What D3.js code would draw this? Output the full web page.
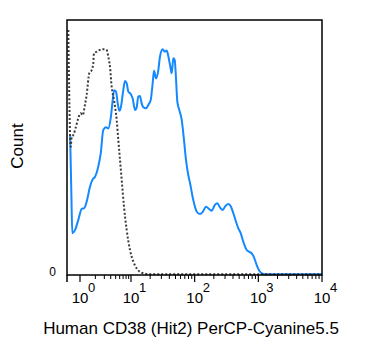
<!DOCTYPE html>
<html><head><meta charset="utf-8">
<script src="https://cdn.jsdelivr.net/npm/d3@7/dist/d3.min.js"></script>
<style>html,body{margin:0;padding:0;background:#fff;}svg{display:block;font-family:"Liberation Sans",Arial,sans-serif;}</style>
</head><body>
<svg id="c" width="375" height="357"></svg>
<script>
// Stained sample (blue): fluorescence intensity and count (% of max)
const stainedX = [0.64,0.68,0.706,0.798,0.926,1.08,1.21,1.35,1.57,1.77,1.97,2.28,2.55,2.86,3.24,3.59,4.0,4.38,4.64,5.08,5.49,5.90,6.37,7.06,7.62,8.24,8.85,9.86,10.6,11.6,12.3,13.0,13.8,14.7,15.6,17.2,18.7,20.4,21.9,23.0,24.7,26.9,28.5,31.5,33.8,36.4,38.5,41.0,43.6,46.2,48.6,50.9,53.4,57.4,62.6,68.0,73.1,79.4,84.5,95.1,108,121,134,151,170,185,208,227,250,276,299,337,372,405,446,485,528,580,656,721,787,855,943,1035,1197,1353,2190,4510,10000];
const stainedY = [55.0,30.0,16.4,17.6,21.6,25.9,26.2,28.7,34.6,37.5,38.5,42.5,47.7,56.9,57.9,57.5,61.5,68.6,72.5,71.9,67.3,64.4,66.0,72.5,76.1,75.2,71.9,71.0,69.3,64.7,65.8,69.9,70.2,67.3,65.8,65.4,66.7,68.6,75.2,80.1,77.1,80.4,85.6,88.5,87.6,88.0,85.9,82.4,79.1,85.0,84.3,77.1,68.0,64.7,60.8,52.9,45.1,39.2,36.1,29.4,24.8,23.9,24.8,26.8,25.8,25.2,27.5,28.1,26.5,25.5,26.8,27.8,26.8,24.2,20.9,18.3,16.4,13.1,9.8,9.1,8.5,6.9,3.9,1.7,0.4,0.3,0.3,0.3,0.3];
// Unstained control (dotted)
const controlX = [0.590,0.657,0.688,0.739,0.835,0.926,1.03,1.13,1.25,1.35,1.52,1.70,1.82,1.88,2.13,2.39,2.66,3.09,3.34,3.59,3.87,4.18,4.64,5.24,5.64,6.09,6.57,7.29,8.24,9.55,10.9,12.6,14.7,19.9,50,200,1000,10000];
const controlY = [96.1,50.3,54.2,54.9,58.2,61.5,63.4,62.7,66.7,70.6,79.1,80.4,83.0,86.9,87.6,88.2,88.5,88.5,88.2,85.6,81.7,73.8,68.6,60.8,52.9,45.1,37.3,26.8,17.6,9.8,5.2,2.2,0.9,0.3,0.3,0.3,0.3,0.3];
const xMajorTicks = [1, 10, 100, 1000, 10000];
const xTickExponents = ["0", "1", "2", "3", "4"];
const yTickValues = [0];
const xLabel = "Human CD38 (Hit2) PerCP-Cyanine5.5";
const yLabel = "Count";

const L = 67, R = 322, T = 20, B = 275;
const svg = d3.select("#c");
const x = d3.scaleLog().domain([1, 10, 10000]).range([80, 131, R]);
const y = d3.scaleLinear().domain([0, 100]).range([B, T]);

// curves
const line = d3.line().x(d => x(d[0])).y(d => y(d[1])).curve(d3.curveMonotoneX);
svg.append("path").datum(stainedX.map((v, i) => [v, stainedY[i]]))
  .attr("d", line).attr("fill", "none").attr("stroke", "#1488ff")
  .attr("stroke-width", 2);
svg.append("path").datum(controlX.map((v, i) => [v, controlY[i]]))
  .attr("d", line).attr("fill", "none").attr("stroke", "#3a3a3a")
  .attr("stroke-width", 2).attr("stroke-dasharray", "2,2");

// frame
svg.append("rect").attr("x", L).attr("y", T).attr("width", R - L).attr("height", B - T)
  .attr("fill", "none").attr("stroke", "#000").attr("stroke-width", 1.5);

// x ticks
const minor = [];
for (let e = 0; e < 4; e++) for (let k = 2; k <= 9; k++) minor.push(k * Math.pow(10, e));
const g = svg.append("g");
g.selectAll("line.mn").data(minor).join("line")
  .attr("x1", d => x(d)).attr("x2", d => x(d)).attr("y1", B).attr("y2", B + 4)
  .attr("stroke", "#000").attr("stroke-width", 1);
g.selectAll("line.mj").data(xMajorTicks).join("line")
  .attr("x1", d => x(d)).attr("x2", d => x(d)).attr("y1", B).attr("y2", B + 7)
  .attr("stroke", "#000").attr("stroke-width", 1.2);
g.append("line").attr("x1", L).attr("x2", L).attr("y1", B).attr("y2", B + 7)
  .attr("stroke", "#000").attr("stroke-width", 1.5);

const lab = g.selectAll("g.lab").data(xMajorTicks).join("g")
  .attr("transform", d => `translate(${x(d)},0)`);
lab.append("text").attr("x", 0).attr("y", 303).attr("text-anchor", "middle")
  .attr("font-size", 15).text("10");
lab.append("text").attr("x", 8).attr("y", 292).attr("text-anchor", "start")
  .attr("font-size", 13).text((d, i) => xTickExponents[i]);

// y tick label
svg.selectAll("text.yt").data(yTickValues).join("text")
  .attr("x", 56).attr("y", d => y(d) + 1).attr("text-anchor", "end")
  .attr("font-size", 12).text(d => d);

// axis titles
svg.append("text").attr("x", 191).attr("y", 334).attr("text-anchor", "middle")
  .attr("font-size", 17).text(xLabel);
svg.append("text").attr("transform", "translate(23,146) rotate(-90)")
  .attr("text-anchor", "middle").attr("font-size", 17).text(yLabel);
</script>
</body></html>
